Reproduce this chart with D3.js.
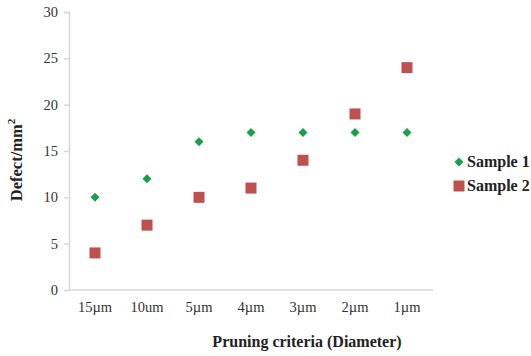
<!DOCTYPE html>
<html>
<head>
<meta charset="utf-8">
<script src="https://cdn.jsdelivr.net/npm/d3@7"></script>
<style>
  body { margin: 0; background: #fff; }
  svg text { font-family: "Liberation Serif", "Times New Roman", serif; }
</style>
</head>
<body>
<div id="chart"></div>
<script>
var categories = ['15\u00b5m', '10um', '5\u00b5m', '4\u00b5m', '3\u00b5m', '2\u00b5m', '1\u00b5m'];
var sample1 = [10, 12, 16, 17, 17, 17, 17];
var sample2 = [4, 7, 10, 11, 14, 19, 24];
var yTicks = [0, 5, 10, 15, 20, 25, 30];
var seriesNames = ['Sample 1', 'Sample 2'];

var W = 531, H = 356;
var pad = { left: 69, top: 12, right: 98, bottom: 66 };

var svg = d3.select('#chart').append('svg')
    .attr('width', W)
    .attr('height', H);

var x = d3.scaleBand()
    .domain(categories)
    .range([pad.left, W - pad.right]);

var y = d3.scaleLinear()
    .domain([0, 30])
    .range([H - pad.bottom, pad.top]);

var axisColor = '#d9d9d9';

// y axis
var gy = svg.append('g')
    .attr('transform', 'translate(' + pad.left + ',0)')
    .call(d3.axisLeft(y).tickValues(yTicks).tickSize(5).tickPadding(6));
gy.select('.domain').attr('stroke', axisColor).attr('stroke-width', 1.5);
gy.selectAll('.tick line').attr('stroke', axisColor).attr('stroke-width', 1.5);
gy.selectAll('.tick text').attr('font-size', 14.5).attr('fill', '#333')
    .attr('font-family', '"Liberation Serif", serif');

// x axis
var gx = svg.append('g')
    .attr('transform', 'translate(0,' + (H - pad.bottom) + ')')
    .call(d3.axisBottom(x).tickSize(0).tickPadding(12));
gx.select('.domain').attr('stroke', axisColor).attr('stroke-width', 1.5)
    .attr('d', 'M' + pad.left + ',0H' + (W - pad.right));
gx.selectAll('.tick text').attr('font-size', 14.5).attr('fill', '#333')
    .attr('font-family', '"Liberation Serif", serif');

var cx = function (d, i) { return x(categories[i]) + x.bandwidth() / 2; };

var green = '#17a24a', red = '#c0504d';

// sample 2 squares
svg.append('g').selectAll('rect')
    .data(sample2)
    .enter().append('rect')
    .attr('x', function (d, i) { return cx(d, i) - 5.5; })
    .attr('y', function (d) { return y(d) - 5.5; })
    .attr('width', 11)
    .attr('height', 11)
    .attr('fill', red);

// sample 1 diamonds
var diamond = d3.symbol().type(d3.symbolSquare).size(40);
svg.append('g').selectAll('path')
    .data(sample1)
    .enter().append('path')
    .attr('d', diamond)
    .attr('transform', function (d, i) {
        return 'translate(' + cx(d, i) + ',' + y(d) + ') rotate(45)';
    })
    .attr('fill', green);

// axis titles
svg.append('text')
    .attr('x', 307)
    .attr('y', 347)
    .attr('text-anchor', 'middle')
    .attr('font-size', 16)
    .attr('font-weight', 'bold')
    .attr('fill', '#222')
    .text('Pruning criteria (Diameter)');

var yt = svg.append('text')
    .attr('transform', 'translate(22,160) rotate(-90)')
    .attr('text-anchor', 'middle')
    .attr('font-size', 16.5)
    .attr('font-weight', 'bold')
    .attr('fill', '#222');
yt.append('tspan').text('Defect/mm');
yt.append('tspan').attr('dy', -7).attr('font-size', 11).text('2');

// legend
var legend = svg.append('g').attr('transform', 'translate(459,162)');
legend.append('path')
    .attr('d', diamond)
    .attr('transform', 'rotate(45)')
    .attr('fill', green);
legend.append('rect')
    .attr('x', -5.5).attr('y', 24 - 5.5)
    .attr('width', 11).attr('height', 11)
    .attr('fill', red);
legend.selectAll('text')
    .data(seriesNames)
    .enter().append('text')
    .attr('x', 8)
    .attr('y', function (d, i) { return i * 24 + 5; })
    .attr('font-size', 16)
    .attr('font-weight', 'bold')
    .attr('fill', '#222')
    .text(function (d) { return d; });
</script>
</body>
</html>
